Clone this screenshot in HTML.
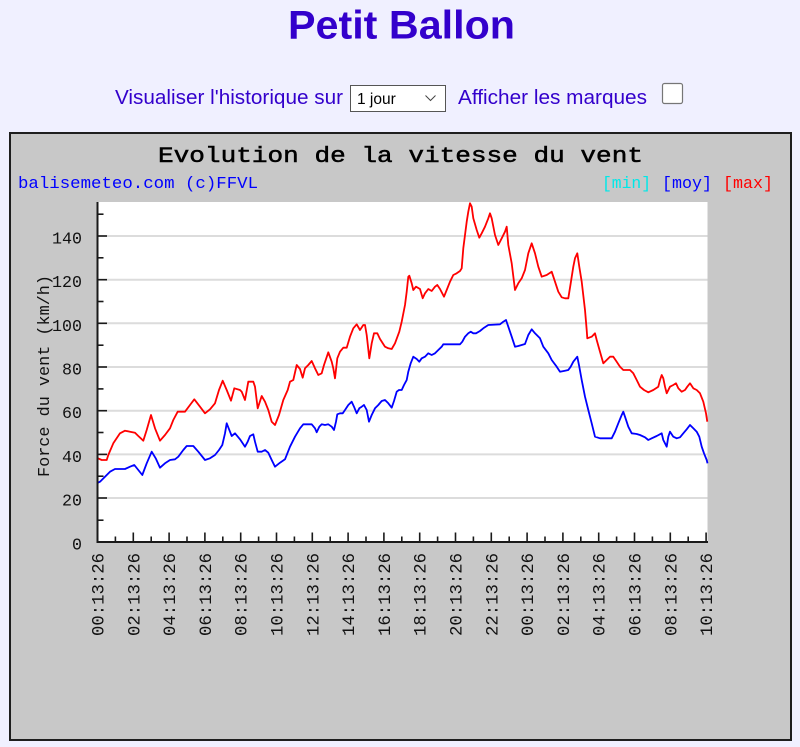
<!DOCTYPE html>
<html>
<head>
<meta charset="utf-8">
<style>
  html, body { margin: 0; padding: 0; background: #f0f0ff; }
  svg { display: block; }
  .mono { font-family: "Liberation Mono", "DejaVu Sans Mono", monospace; }
  .sans { font-family: "Liberation Sans", Arial, sans-serif; }
</style>
</head>
<body>
<svg width="800" height="747" viewBox="0 0 800 747" xmlns="http://www.w3.org/2000/svg">
  <rect x="0" y="0" width="800" height="747" fill="#f0f0ff"/>

  <!-- Header -->
  <text class="sans" x="288" y="38.5" font-size="40" font-weight="bold" fill="#3300cc" textLength="227" lengthAdjust="spacingAndGlyphs">Petit Ballon</text>

  <text class="sans" x="115" y="104" font-size="20.7" fill="#3300cc" textLength="228" lengthAdjust="spacingAndGlyphs">Visualiser l'historique sur</text>
  <rect x="350.5" y="85.5" width="95" height="26" fill="#ffffff" stroke="#555555" stroke-width="1"/>
  <text class="sans" x="357" y="104" font-size="15.5" fill="#000000">1 jour</text>
  <polyline points="425.5,95.5 430.5,100.5 435.5,95.5" fill="none" stroke="#444444" stroke-width="1"/>
  <text class="sans" x="458" y="104" font-size="20.7" fill="#3300cc" textLength="189" lengthAdjust="spacingAndGlyphs">Afficher les marques</text>
  <rect x="662.5" y="83.5" width="20" height="20" rx="2" fill="#ffffff" stroke="#767676" stroke-width="1.2"/>

  <!-- Chart box -->
  <rect x="10" y="133" width="781" height="607" fill="#c8c8c8" stroke="#1e1e1e" stroke-width="2"/>

  <!-- Chart titles -->
  <text class="mono" x="158" y="162" font-size="22" fill="#000000" stroke="#000000" stroke-width="0.5" textLength="485" lengthAdjust="spacingAndGlyphs">Evolution de la vitesse du vent</text>
  <text class="mono" x="18" y="188" font-size="17" fill="#0000ff" textLength="240" lengthAdjust="spacingAndGlyphs">balisemeteo.com (c)FFVL</text>
  <text class="mono" x="602" y="188" font-size="17" fill="#00e8e8" textLength="49" lengthAdjust="spacingAndGlyphs">[min]</text>
  <text class="mono" x="662" y="188" font-size="17" fill="#0000ff" textLength="50" lengthAdjust="spacingAndGlyphs">[moy]</text>
  <text class="mono" x="723" y="188" font-size="17" fill="#ff0000" textLength="50" lengthAdjust="spacingAndGlyphs">[max]</text>

  <!-- Plot area -->
  <rect x="98" y="202" width="609.5" height="340" fill="#ffffff"/>

  <!-- Grid lines -->
  <g stroke="#dcdcdc" stroke-width="2">
    <line x1="98" y1="498.0" x2="707.5" y2="498.0"/>
    <line x1="98" y1="454.4" x2="707.5" y2="454.4"/>
    <line x1="98" y1="410.7" x2="707.5" y2="410.7"/>
    <line x1="98" y1="367.0" x2="707.5" y2="367.0"/>
    <line x1="98" y1="323.3" x2="707.5" y2="323.3"/>
    <line x1="98" y1="279.7" x2="707.5" y2="279.7"/>
    <line x1="98" y1="236.0" x2="707.5" y2="236.0"/>
  </g>

  <!-- Series -->
  <polyline fill="none" stroke="#ff0000" stroke-width="1.8" stroke-linejoin="round" points="98,458.3 101.7,460 106.7,460 108.3,455 113.3,443.3 120,433.3 125,430.7 130,431.7 135,432.7 138.3,436 143.3,440.7 146.7,430 151,415 155,428.3 160,440.7 165,435 170,428.3 173.3,420 177.7,411.7 185,411.7 190,405 194.3,399.3 200,406.7 205,413.3 210,409.3 215,403.3 219,390 222.7,380.7 226.7,390 231,400.7 234.3,388.3 240,390 241.7,391.7 245,400 248.3,381.7 253.3,381.7 255,386.7 257.7,408.3 261.7,396 265,401.7 268.3,410 271.7,421.7 275,425 279,415 283.3,400 287.7,390 290,381.7 293.3,380 296.7,365 300,369 302.7,377.7 305,368.3 308.3,365 311.7,361 315,368.3 318.3,375 321.7,373.3 324,365 328.3,352.3 331.7,361.7 333.3,368.3 335,378.3 337.3,358.3 340,351.7 343.3,347.7 346.7,347.7 350,336.7 353.3,328.3 356.7,324.3 360,330 363.3,325 365,325 366.7,335 369.3,358.3 371.7,343.3 374,333.3 377.3,333.3 380,339 385,346.7 388.3,348.3 391.7,349 395,343.3 399.3,331.7 401.7,321.7 405,305 406.7,291.7 408.3,276.7 409.3,275.7 411.7,283.3 413.3,290 416,286.7 420,289 422.7,298.3 425,293.3 428.3,289 431.7,291 435,286.7 437.3,285 440,289 444,296.7 446.7,290 450,281.7 453.3,275 456.7,273.3 460,271 461.7,268.3 463.3,248.3 465,235 466.7,221.7 468.3,211.7 470,203.3 471.7,206.7 473.3,218.3 476.7,230 479.3,237.7 481.7,233.3 485,226.7 488.3,218.3 490,213.3 491.7,218.3 495,235 498.3,245 501.7,238.3 505,231.7 506.7,226.7 508.3,245 511.7,263.3 515,290 518.3,283.3 521.7,278.3 525,270 528.3,253.3 531.7,243.3 535,253.3 538.3,266.7 541.7,276.7 546.7,275 551.7,271.7 555,281.7 558.3,291.7 561.7,297.3 565,298.3 568.3,298.3 570.7,283.3 573.3,266.7 575,258.3 577.3,253.3 579.3,266.7 581.7,281.7 585,310 586.7,330 587.3,338.3 591.7,336.7 595,333.3 596.7,340 600,351.7 603.3,363.3 606.7,360 610,356.7 613.3,356.7 616.7,361.7 620,366.7 623.3,370 630,370 633.3,373.3 636.7,380 640,386.7 644,390 648.3,392.3 653.3,390 658.3,386.7 660,380 661.7,375 663.3,378.3 665,386.7 666.7,393.3 670,386.7 673.3,385 676,383.3 678.3,388.3 681.7,391.7 685,390 687.3,386.7 690,383.3 693.3,388.3 696.7,390 700,393.3 703.3,401.7 706,413.3 707.3,421.7"/>

  <polyline fill="none" stroke="#0000ff" stroke-width="1.8" stroke-linejoin="round" points="98,482.7 100,481.7 105,476.7 110,471.7 115,469 125,469 130,466.7 134.3,465 138.3,470 142.3,475 146.7,463.3 151.7,451.7 155.7,458.3 160,467.7 165,463.3 170,460 175,459.3 178.3,456.7 183.3,450 186.7,446 193.3,446 198.3,451.7 205,460 210,458.3 215,455 219,450 222.3,445 225,433.3 226.7,423.3 230,431.7 231.7,436 235,433.3 240,439.3 245,446.7 247.7,441.7 250,436 253.3,434.3 255,441.7 257.7,451.7 261.7,451.7 265,450 268.3,452.7 271.7,460 275,466.7 280,462.7 285,459.3 290,446.7 295,436.7 300,428.3 303.3,424.3 306.7,424.3 311.7,424.3 315,428.3 316.7,432.3 319.3,426.7 321.7,424.3 325,425 328.3,424.3 331.7,426.7 334,430 336,421.7 337.3,414.3 340,413.3 342.7,413.3 345,410 348.3,405 351.7,401.7 354,406.7 356.7,413.3 359.3,408.3 361.7,406.7 364,405 366.7,410 369,421.7 371.7,415 375,408.3 378.3,405 381.7,401 385,400 388.3,403.3 391.7,407.7 394,401 396.7,391.7 399,390 401.7,390 404,385 406.7,380 408.3,371.7 410.7,363.3 413.3,356.7 416.7,359 419.3,361.7 421.7,358.3 425,356.7 428.3,353.3 431.7,355 435,353.3 438.3,350 441.7,346.7 443.3,344.3 460,344.3 462.3,341.7 465,336.7 468.3,333.3 470.7,331.7 473.3,333.3 476,333.3 480,331 483.3,328.3 488.3,325 500,324.3 503.3,321.7 506,320 508.3,326.7 511.7,336.7 515,346.7 518.3,346 521.7,345 525,344 528.3,335 531.7,329.3 535,333.3 540,338.3 543.3,346.7 548.3,353.3 551.7,360 556.7,366.7 560,371.7 565,370.7 568.3,370 570.7,366.7 573.3,361.7 576,358.3 577.3,356.7 579.3,366.7 581.7,380 585,396.7 588.3,410 591.7,423.3 595,436.7 600,438.3 605,438.3 611.7,438.3 615,431.7 618.3,423.3 621.7,415 623.3,411.7 625,416.7 628.3,426.7 631.7,433.3 636.7,434 640,435 645,437.3 648.3,440 651.7,438.3 656.7,436 661.7,433.3 663.3,440 666.7,446.7 668.3,436.7 670,431.7 673.3,436.7 676.7,438.3 680,437.3 683.3,433.3 686.7,429.3 690,425 693.3,428.3 696.7,431.7 699.3,436.7 701.7,446.7 704,453.3 706.7,460 707.5,463.3"/>

  <!-- Axes -->
  <g stroke="#1a1a1a" stroke-width="2" fill="none">
    <line x1="97.5" y1="202" x2="97.5" y2="543"/>
    <line x1="96.5" y1="542" x2="708" y2="542"/>
  </g>

  <!-- Y ticks -->
  <g stroke="#1a1a1a" stroke-width="1.6">
    <line x1="98" y1="520.2" x2="103.5" y2="520.2"/>
    <line x1="98" y1="498.0" x2="107" y2="498.0"/>
    <line x1="98" y1="476.2" x2="103.5" y2="476.2"/>
    <line x1="98" y1="454.4" x2="107" y2="454.4"/>
    <line x1="98" y1="432.5" x2="103.5" y2="432.5"/>
    <line x1="98" y1="410.7" x2="107" y2="410.7"/>
    <line x1="98" y1="388.9" x2="103.5" y2="388.9"/>
    <line x1="98" y1="367.0" x2="107" y2="367.0"/>
    <line x1="98" y1="345.2" x2="103.5" y2="345.2"/>
    <line x1="98" y1="323.3" x2="107" y2="323.3"/>
    <line x1="98" y1="301.5" x2="103.5" y2="301.5"/>
    <line x1="98" y1="279.7" x2="107" y2="279.7"/>
    <line x1="98" y1="257.8" x2="103.5" y2="257.8"/>
    <line x1="98" y1="236.0" x2="107" y2="236.0"/>
    <line x1="98" y1="214.2" x2="103.5" y2="214.2"/>
  </g>

  <!-- X ticks -->
  <g stroke="#1a1a1a" stroke-width="1.6">
    <line x1="115.4" y1="541" x2="115.4" y2="536.5"/>
    <line x1="133.3" y1="541" x2="133.3" y2="532.5"/>
    <line x1="151.2" y1="541" x2="151.2" y2="536.5"/>
    <line x1="169.1" y1="541" x2="169.1" y2="532.5"/>
    <line x1="187.0" y1="541" x2="187.0" y2="536.5"/>
    <line x1="204.9" y1="541" x2="204.9" y2="532.5"/>
    <line x1="222.8" y1="541" x2="222.8" y2="536.5"/>
    <line x1="240.7" y1="541" x2="240.7" y2="532.5"/>
    <line x1="258.6" y1="541" x2="258.6" y2="536.5"/>
    <line x1="276.5" y1="541" x2="276.5" y2="532.5"/>
    <line x1="294.4" y1="541" x2="294.4" y2="536.5"/>
    <line x1="312.3" y1="541" x2="312.3" y2="532.5"/>
    <line x1="330.2" y1="541" x2="330.2" y2="536.5"/>
    <line x1="348.1" y1="541" x2="348.1" y2="532.5"/>
    <line x1="366.0" y1="541" x2="366.0" y2="536.5"/>
    <line x1="383.9" y1="541" x2="383.9" y2="532.5"/>
    <line x1="401.8" y1="541" x2="401.8" y2="536.5"/>
    <line x1="419.7" y1="541" x2="419.7" y2="532.5"/>
    <line x1="437.6" y1="541" x2="437.6" y2="536.5"/>
    <line x1="455.5" y1="541" x2="455.5" y2="532.5"/>
    <line x1="473.4" y1="541" x2="473.4" y2="536.5"/>
    <line x1="491.3" y1="541" x2="491.3" y2="532.5"/>
    <line x1="509.2" y1="541" x2="509.2" y2="536.5"/>
    <line x1="527.1" y1="541" x2="527.1" y2="532.5"/>
    <line x1="545.0" y1="541" x2="545.0" y2="536.5"/>
    <line x1="562.9" y1="541" x2="562.9" y2="532.5"/>
    <line x1="580.8" y1="541" x2="580.8" y2="536.5"/>
    <line x1="598.7" y1="541" x2="598.7" y2="532.5"/>
    <line x1="616.6" y1="541" x2="616.6" y2="536.5"/>
    <line x1="634.5" y1="541" x2="634.5" y2="532.5"/>
    <line x1="652.4" y1="541" x2="652.4" y2="536.5"/>
    <line x1="670.3" y1="541" x2="670.3" y2="532.5"/>
    <line x1="688.2" y1="541" x2="688.2" y2="536.5"/>
    <line x1="706.1" y1="541" x2="706.1" y2="532.5"/>
  </g>

  <!-- Y labels -->
  <g class="mono" font-size="17" fill="#111111" text-anchor="end">
    <text x="82" y="549.5" textLength="10" lengthAdjust="spacingAndGlyphs">0</text>
    <text x="82" y="505.5" textLength="20" lengthAdjust="spacingAndGlyphs">20</text>
    <text x="82" y="461.9" textLength="20" lengthAdjust="spacingAndGlyphs">40</text>
    <text x="82" y="418.2" textLength="20" lengthAdjust="spacingAndGlyphs">60</text>
    <text x="82" y="374.5" textLength="20" lengthAdjust="spacingAndGlyphs">80</text>
    <text x="82" y="330.8" textLength="30" lengthAdjust="spacingAndGlyphs">100</text>
    <text x="82" y="287.2" textLength="30" lengthAdjust="spacingAndGlyphs">120</text>
    <text x="82" y="243.5" textLength="30" lengthAdjust="spacingAndGlyphs">140</text>
  </g>

  <!-- Y title -->
  <text class="mono" transform="translate(49,376) rotate(-90)" font-size="17" fill="#111111" text-anchor="middle" textLength="202" lengthAdjust="spacingAndGlyphs">Force du vent (km/h)</text>

  <!-- X labels -->
  <g class="mono" font-size="17.5" fill="#111111" text-anchor="end">
    <text transform="translate(103.5,553) rotate(-90)" textLength="83" lengthAdjust="spacingAndGlyphs">00:13:26</text>
    <text transform="translate(139.3,553) rotate(-90)" textLength="83" lengthAdjust="spacingAndGlyphs">02:13:26</text>
    <text transform="translate(175.1,553) rotate(-90)" textLength="83" lengthAdjust="spacingAndGlyphs">04:13:26</text>
    <text transform="translate(210.9,553) rotate(-90)" textLength="83" lengthAdjust="spacingAndGlyphs">06:13:26</text>
    <text transform="translate(246.7,553) rotate(-90)" textLength="83" lengthAdjust="spacingAndGlyphs">08:13:26</text>
    <text transform="translate(282.5,553) rotate(-90)" textLength="83" lengthAdjust="spacingAndGlyphs">10:13:26</text>
    <text transform="translate(318.3,553) rotate(-90)" textLength="83" lengthAdjust="spacingAndGlyphs">12:13:26</text>
    <text transform="translate(354.1,553) rotate(-90)" textLength="83" lengthAdjust="spacingAndGlyphs">14:13:26</text>
    <text transform="translate(389.9,553) rotate(-90)" textLength="83" lengthAdjust="spacingAndGlyphs">16:13:26</text>
    <text transform="translate(425.7,553) rotate(-90)" textLength="83" lengthAdjust="spacingAndGlyphs">18:13:26</text>
    <text transform="translate(461.5,553) rotate(-90)" textLength="83" lengthAdjust="spacingAndGlyphs">20:13:26</text>
    <text transform="translate(497.3,553) rotate(-90)" textLength="83" lengthAdjust="spacingAndGlyphs">22:13:26</text>
    <text transform="translate(533.1,553) rotate(-90)" textLength="83" lengthAdjust="spacingAndGlyphs">00:13:26</text>
    <text transform="translate(568.9,553) rotate(-90)" textLength="83" lengthAdjust="spacingAndGlyphs">02:13:26</text>
    <text transform="translate(604.7,553) rotate(-90)" textLength="83" lengthAdjust="spacingAndGlyphs">04:13:26</text>
    <text transform="translate(640.5,553) rotate(-90)" textLength="83" lengthAdjust="spacingAndGlyphs">06:13:26</text>
    <text transform="translate(676.3,553) rotate(-90)" textLength="83" lengthAdjust="spacingAndGlyphs">08:13:26</text>
    <text transform="translate(712.1,553) rotate(-90)" textLength="83" lengthAdjust="spacingAndGlyphs">10:13:26</text>
  </g>
</svg>
</body>
</html>
